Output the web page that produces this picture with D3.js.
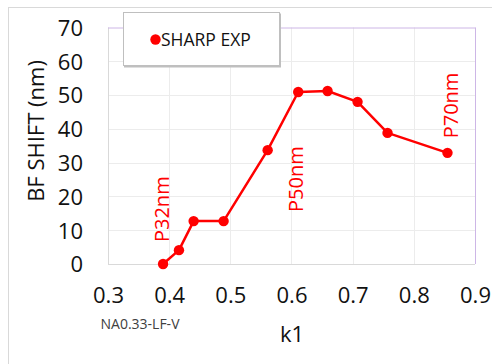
<!DOCTYPE html>
<html>
<head>
<meta charset="utf-8">
<script src="https://cdn.jsdelivr.net/npm/d3@7/dist/d3.min.js"></script>
<style>
  html, body { margin: 0; padding: 0; background: #fff; }
  svg { display: block; }
  text { font-family: "Open Sans", "DejaVu Sans", sans-serif; }
</style>
</head>
<body>
<svg id="chart" width="492" height="364"></svg>
<script>
// SHARP EXP measurements: best-focus shift versus k1
const k1Values    = [0.390, 0.416, 0.440, 0.489, 0.561, 0.611, 0.659, 0.708, 0.757, 0.855];
const shiftValues = [0.0,   4.1,   12.7,  12.7,  33.7,  50.9,  51.2,  48.0,  38.8,  32.9];
const seriesName = "SHARP EXP";

const xTicks = [0.3, 0.4, 0.5, 0.6, 0.7, 0.8, 0.9];
const yTicks = [0, 10, 20, 30, 40, 50, 60, 70];

// Pitch annotations (rotated labels)
const annoLabels = ["P32nm", "P50nm", "P70nm"];
const annoK1     = [0.389, 0.608, 0.860];
const annoShift  = [6.5, 15.4, 37.2];

const svg = d3.select("#chart");
const plot = { left: 108, right: 475, top: 27.5, bottom: 264 };

const x = d3.scaleLinear().domain([0.3, 0.9]).range([plot.left, plot.right]);
const y = d3.scaleLinear().domain([0, 70]).range([plot.bottom, plot.top]);

// outer chart frame
svg.append("rect")
  .attr("x", 8.5).attr("y", 7.5).attr("width", 500).attr("height", 370)
  .attr("fill", "#fff").attr("stroke", "#d9d9d9").attr("stroke-width", 1);

// gridlines
const grid = svg.append("g");
grid.selectAll("line.h").data(yTicks.slice(1, -1)).join("line")
  .attr("x1", plot.left).attr("x2", plot.right)
  .attr("y1", d => Math.round(y(d)) + 0.5).attr("y2", d => Math.round(y(d)) + 0.5)
  .attr("stroke", "#ececec").attr("stroke-width", 1);
grid.selectAll("line.v").data(xTicks.slice(1, -1)).join("line")
  .attr("y1", plot.top).attr("y2", plot.bottom)
  .attr("x1", d => Math.round(x(d)) + 0.5).attr("x2", d => Math.round(x(d)) + 0.5)
  .attr("stroke", "#ececec").attr("stroke-width", 1);

// plot area border: gray left/bottom, lavender top/right
const pb = svg.append("g");
pb.append("line").attr("x1", plot.left + 0.5).attr("x2", plot.left + 0.5)
  .attr("y1", plot.top).attr("y2", plot.bottom + 0.5).attr("stroke", "#d9d9d9");
pb.append("line").attr("x1", plot.left).attr("x2", plot.right)
  .attr("y1", plot.bottom + 0.5).attr("y2", plot.bottom + 0.5).attr("stroke", "#d9d9d9");
pb.append("line").attr("x1", plot.left).attr("x2", plot.right + 0.5)
  .attr("y1", plot.top + 0.5).attr("y2", plot.top + 0.5).attr("stroke", "#cdb6e6");
pb.append("line").attr("x1", plot.right + 0.5).attr("x2", plot.right + 0.5)
  .attr("y1", plot.top).attr("y2", plot.bottom).attr("stroke", "#cdb6e6");

// axes (labels only, no domain or tick marks)
const xAxis = svg.append("g")
  .attr("transform", `translate(0,${plot.bottom})`)
  .call(d3.axisBottom(x).tickValues(xTicks).tickFormat(d3.format(".1f")).tickSize(0).tickPadding(23));
const yAxis = svg.append("g")
  .attr("transform", `translate(${plot.left},0)`)
  .call(d3.axisLeft(y).tickValues(yTicks).tickSize(0).tickPadding(25));
[xAxis, yAxis].forEach(a => {
  a.select(".domain").remove();
  a.selectAll("text")
    .attr("font-family", "'Open Sans', sans-serif")
    .attr("font-size", 22).attr("fill", "#111");
});
yAxis.selectAll("text").attr("dy", "0.36em");

// axis titles
svg.append("text")
  .attr("transform", `translate(44,131) rotate(-90)`)
  .attr("text-anchor", "middle")
  .attr("font-size", 22).attr("fill", "#111")
  .text("BF SHIFT (nm)");
svg.append("text")
  .attr("x", 292).attr("y", 342)
  .attr("text-anchor", "middle")
  .attr("font-size", 22).attr("fill", "#111")
  .text("k1");
svg.append("text")
  .attr("x", 140).attr("y", 329)
  .attr("text-anchor", "middle")
  .attr("font-size", 14).attr("fill", "#404040")
  .text("NA0.33-LF-V");

// series line + markers
const pts = k1Values.map((k, i) => [k, shiftValues[i]]);
svg.append("path")
  .datum(pts)
  .attr("fill", "none").attr("stroke", "#ff0000").attr("stroke-width", 2.5)
  .attr("stroke-linejoin", "round")
  .attr("d", d3.line().x(d => x(d[0])).y(d => y(d[1])));
svg.append("g").selectAll("circle").data(pts).join("circle")
  .attr("cx", d => x(d[0])).attr("cy", d => y(d[1])).attr("r", 5.2)
  .attr("fill", "#ff0000");

// pitch annotations
svg.append("g").selectAll("text").data(annoLabels).join("text")
  .attr("transform", (d, i) => `translate(${x(annoK1[i]) + 7},${y(annoShift[i])}) rotate(-90)`)
  .attr("text-anchor", "start")
  .attr("font-size", 20).attr("fill", "#ff0000")
  .text(d => d);

// legend
const lg = svg.append("g");
lg.append("rect")
  .attr("x", 124).attr("y", 13.5).attr("width", 157).attr("height", 54)
  .attr("fill", "#bfbfbf");
lg.append("rect")
  .attr("x", 123.5).attr("y", 12.5).attr("width", 156).attr("height", 53)
  .attr("fill", "#fff").attr("stroke", "#bfbfbf").attr("stroke-width", 1);
lg.append("circle").attr("cx", 155.5).attr("cy", 39.5).attr("r", 5.2).attr("fill", "#ff0000");
lg.append("text")
  .attr("x", 161).attr("y", 45.5)
  .attr("font-size", 17.5).attr("fill", "#111")
  .text(seriesName);
</script>
</body>
</html>
